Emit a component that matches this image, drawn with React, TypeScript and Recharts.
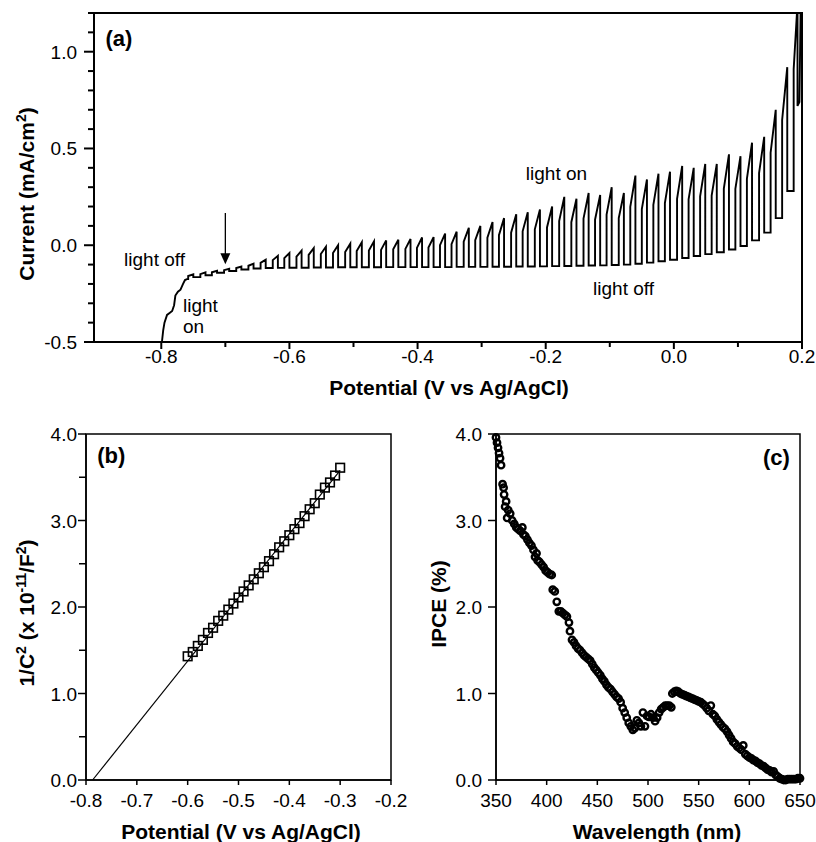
import React from "react";
import {
  LineChart,
  Line,
  ScatterChart,
  Scatter,
  XAxis,
  YAxis,
  ReferenceArea,
  ReferenceDot,
  ReferenceLine,
} from "recharts";

const FONT = "'Liberation Sans', Arial, Helvetica, sans-serif";

// ---------- (a) photocurrent under chopped light ----------
// steep rise at the start of the sweep
const riseV = [-0.799, -0.797, -0.795, -0.791, -0.787, -0.783, -0.78, -0.778, -0.774, -0.77, -0.766, -0.763, -0.76];
const riseI = [-0.5, -0.44, -0.4, -0.36, -0.35, -0.34, -0.31, -0.26, -0.24, -0.23, -0.2, -0.18, -0.175];

// one entry per light on/off cycle
const onV = [
  -0.758, -0.739, -0.721, -0.702, -0.683, -0.664, -0.645, -0.626, -0.608, -0.589, -0.57, -0.551, -0.532,
  -0.513, -0.495, -0.476, -0.457, -0.438, -0.419, -0.401, -0.383, -0.365, -0.347, -0.328, -0.31, -0.291,
  -0.273, -0.254, -0.236, -0.217, -0.198, -0.179, -0.16, -0.141, -0.123, -0.105, -0.086, -0.068, -0.05,
  -0.032, -0.014, 0.005, 0.023, 0.041, 0.059, 0.078, 0.096, 0.114, 0.133, 0.151, 0.169, 0.187,
];
const offV = [
  -0.75, -0.731, -0.713, -0.694, -0.675, -0.656, -0.637, -0.618, -0.6, -0.581, -0.562, -0.543, -0.524,
  -0.505, -0.487, -0.468, -0.449, -0.43, -0.411, -0.393, -0.375, -0.357, -0.339, -0.32, -0.302, -0.283,
  -0.265, -0.246, -0.228, -0.209, -0.19, -0.171, -0.152, -0.133, -0.115, -0.097, -0.078, -0.06, -0.042,
  -0.024, -0.006, 0.013, 0.031, 0.049, 0.067, 0.086, 0.104, 0.122, 0.141, 0.159, 0.177, 0.193,
];
const stepI = [
  -0.159, -0.149, -0.14, -0.129, -0.118, -0.106, -0.091, -0.077, -0.067, -0.059, -0.05, -0.045, -0.04,
  -0.035, -0.03, -0.027, -0.024, -0.021, -0.019, -0.014, -0.012, 0.0, 0.006, 0.019, 0.026, 0.039,
  0.052, 0.065, 0.072, 0.082, 0.092, 0.125, 0.119, 0.138, 0.132, 0.159, 0.14, 0.199, 0.187,
  0.209, 0.218, 0.24, 0.237, 0.253, 0.257, 0.293, 0.291, 0.343, 0.373, 0.478, 0.647, 0.91,
];
const peakI = [
  -0.15, -0.14, -0.132, -0.122, -0.11, -0.095, -0.075, -0.055, -0.04, -0.028, -0.015, -0.008, 0.0,
  0.008, 0.015, 0.02, 0.025, 0.028, 0.032, 0.04, 0.042, 0.06, 0.07, 0.09, 0.1, 0.12,
  0.14, 0.16, 0.17, 0.185, 0.2, 0.25, 0.24, 0.27, 0.26, 0.3, 0.27, 0.36, 0.34,
  0.37, 0.38, 0.41, 0.4, 0.42, 0.42, 0.47, 0.46, 0.53, 0.56, 0.7, 0.92, 1.25,
];
const darkI = [
  -0.165, -0.155, -0.142, -0.133, -0.125, -0.12, -0.118, -0.117, -0.116, -0.116, -0.115, -0.115, -0.114,
  -0.114, -0.114, -0.114, -0.113, -0.113, -0.113, -0.113, -0.113, -0.113, -0.112, -0.112, -0.112, -0.111,
  -0.111, -0.11, -0.11, -0.109, -0.108, -0.107, -0.106, -0.105, -0.104, -0.102, -0.1, -0.096, -0.09,
  -0.083, -0.075, -0.066, -0.056, -0.046, -0.036, -0.022, -0.004, 0.025, 0.065, 0.14, 0.28, 0.72,
];
const tailV = [0.196, 0.198];
const tailI = [0.74, 1.25];

const aXTicks = [-0.8, -0.7, -0.6, -0.5, -0.4, -0.3, -0.2, -0.1, 0, 0.1, 0.2];
const aXMajor = [-0.8, -0.6, -0.4, -0.2, 0, 0.2];
const aYTicks = [-0.5, -0.4, -0.3, -0.2, -0.1, 0, 0.1, 0.2, 0.3, 0.4, 0.5, 0.6, 0.7, 0.8, 0.9, 1.0, 1.1, 1.2];
const aYMajor = [-0.5, 0, 0.5, 1.0];

// ---------- (b) Mott-Schottky ----------
const bPotential = [
  -0.6, -0.59, -0.58, -0.57, -0.56, -0.55, -0.54, -0.53, -0.52, -0.51, -0.5, -0.49, -0.48, -0.47, -0.46, -0.45,
  -0.44, -0.43, -0.42, -0.41, -0.4, -0.39, -0.38, -0.37, -0.36, -0.35, -0.34, -0.33, -0.32, -0.31, -0.3,
];
const bInvC2 = [
  1.43, 1.48, 1.55, 1.62, 1.7, 1.76, 1.84, 1.9, 1.97, 2.04, 2.11, 2.18, 2.25, 2.32, 2.39, 2.46,
  2.53, 2.61, 2.69, 2.76, 2.83, 2.9, 2.97, 3.05, 3.13, 3.2, 3.3, 3.38, 3.44, 3.52, 3.61,
];
const bFitV = [-0.787, -0.3];
const bFitY = [0, 3.58];
const bXTicks = [-0.8, -0.7, -0.6, -0.5, -0.4, -0.3, -0.2];
const bYTicks = [0, 0.5, 1, 1.5, 2, 2.5, 3, 3.5, 4];
const bYMajor = [0, 1, 2, 3, 4];

// ---------- (c) IPCE ----------
const cWavelength = [
  350, 351, 352, 353, 354, 355, 356.5, 357.5, 358, 359, 360, 361, 362, 364, 366, 368, 370, 372, 374, 376,
  377, 379, 381, 383, 385, 387, 388.5, 390, 391, 393, 395, 397, 399, 401, 403, 405, 406, 408, 410, 412,
  414, 416, 418, 420, 422, 423, 425, 427, 429, 431, 433, 435, 437, 439, 441, 443, 445, 447, 449, 451,
  453, 455, 457, 459, 461, 463, 465, 467, 469, 471, 473, 475, 477, 479, 481, 483, 485, 487, 489, 491,
  493, 495, 497, 499, 501, 503, 505, 507, 509, 511, 513, 515, 517, 519, 521, 523, 524, 526, 528, 530,
  532, 534, 536, 538, 540, 542, 544, 546, 548, 550, 552, 554, 556, 558, 560, 562, 564, 566, 568, 570,
  572, 574, 576, 578, 580, 582, 584, 586, 588, 590, 592, 594, 596, 598, 600, 602, 604, 606, 608, 610,
  612, 614, 616, 618, 620, 622, 624, 626, 628, 630, 632, 634, 636, 638, 640, 642, 644, 646, 648, 650,
];
const cIpce = [
  3.96, 3.9, 3.84, 3.78, 3.72, 3.64, 3.42, 3.38, 3.3, 3.16, 3.22, 3.03, 3.12, 3.08, 3.0, 2.96, 2.92, 2.9, 2.88, 2.92,
  2.84, 2.82, 2.78, 2.74, 2.71, 2.66, 2.58, 2.62, 2.54, 2.52, 2.49, 2.46, 2.42, 2.4, 2.38, 2.37, 2.2, 2.18, 2.06, 1.95,
  1.95, 1.93, 1.91, 1.89, 1.82, 1.72, 1.62, 1.59, 1.55, 1.52, 1.5, 1.47, 1.44, 1.42, 1.4, 1.38, 1.34, 1.3, 1.27, 1.24,
  1.21, 1.17, 1.14, 1.1, 1.07, 1.05, 1.02, 0.99, 0.96, 0.94, 0.9, 0.83, 0.78, 0.72, 0.66, 0.62, 0.58, 0.6, 0.69, 0.66,
  0.62, 0.78, 0.62, 0.74, 0.73, 0.76, 0.72, 0.68, 0.72, 0.78, 0.82, 0.84, 0.86, 0.86, 0.86, 0.84, 1.0, 1.02, 1.03, 1.02,
  1.0, 0.99, 0.98, 0.97, 0.96, 0.95, 0.94, 0.93, 0.92, 0.91, 0.9, 0.88, 0.86, 0.83, 0.8, 0.86, 0.76, 0.74, 0.7, 0.67,
  0.64, 0.61, 0.59, 0.56, 0.52, 0.48, 0.44, 0.42, 0.39, 0.37, 0.35, 0.4, 0.3, 0.28, 0.26, 0.25, 0.23, 0.22, 0.2, 0.19,
  0.17, 0.16, 0.14, 0.12, 0.11, 0.09, 0.1, 0.06, 0.04, 0.02, 0.01, 0.0, 0.0, 0.01, 0.01, 0.01, 0.01, 0.01, 0.02, 0.02,
];
const cXTicks = [350, 400, 450, 500, 550, 600, 650];
const cYTicks = [0, 1, 2, 3, 4];

// build the plotted tables from the arrays above
const aData: { v: number; i: number }[] = [];
riseV.forEach((v, k) => aData.push({ v, i: riseI[k] }));
let lastDark = riseI[riseI.length - 1];
onV.forEach((v, k) => {
  aData.push({ v, i: lastDark });
  aData.push({ v, i: stepI[k] });
  aData.push({ v: offV[k], i: peakI[k] });
  aData.push({ v: offV[k], i: darkI[k] });
  lastDark = darkI[k];
});
tailV.forEach((v, k) => aData.push({ v, i: tailI[k] }));

const bData = bPotential.map((x, k) => ({ x, y: bInvC2[k] }));
const bFit = bFitV.map((x, k) => ({ x, y: bFitY[k] }));
const cData = cWavelength.map((x, k) => ({ x, y: cIpce[k] }));

const isIn = (list: number[], v: number) => list.some((m) => Math.abs(m - v) < 1e-9);

// ticks drawn by hand so minor ticks can be shorter and unlabelled
const makeXTick = (majors: number[], fmt: (v: number) => string, majorLen: number, minorLen: number, dy: number, sw: number) =>
  (props: any) => {
    const { x, y, payload } = props;
    const major = isIn(majors, payload.value);
    return (
      <g>
        <line x1={x} y1={y} x2={x} y2={y + (major ? majorLen : minorLen)} stroke="#000" strokeWidth={sw} />
        {major && (
          <text x={x} y={y + dy} textAnchor="middle" fontFamily={FONT} fontSize={19} fill="#000">
            {fmt(payload.value)}
          </text>
        )}
      </g>
    );
  };

const makeYTick = (majors: number[], fmt: (v: number) => string, majorLen: number, minorLen: number, dx: number, sw: number) =>
  (props: any) => {
    const { x, y, payload } = props;
    const major = isIn(majors, payload.value);
    return (
      <g>
        <line x1={x} y1={y} x2={x - (major ? majorLen : minorLen)} y2={y} stroke="#000" strokeWidth={sw} />
        {major && (
          <text x={x - dx} y={y + 7} textAnchor="end" fontFamily={FONT} fontSize={19} fill="#000">
            {fmt(payload.value)}
          </text>
        )}
      </g>
    );
  };

const Title = ({ px, py, vertical, node }: any) => (
  <text
    x={px}
    y={py}
    textAnchor="middle"
    fontFamily={FONT}
    fontSize={21}
    fontWeight="bold"
    fill="#000"
    transform={vertical ? `rotate(-90 ${px} ${py})` : undefined}
  >
    {node}
  </text>
);

const note = (txt: string, size = 19, bold = false, anchor = "start") => (p: any) => (
  <text x={p.cx} y={p.cy} textAnchor={anchor} fontFamily={FONT} fontSize={size} fontWeight={bold ? "bold" : "normal"} fill="#000">
    {txt}
  </text>
);

const Arrow = (p: any) => (
  <g>
    <line x1={p.x1} y1={p.y1} x2={p.x2} y2={p.y2 - 9} stroke="#000" strokeWidth={1.3} />
    <polygon points={`${p.x2 - 5},${p.y2 - 11} ${p.x2 + 5},${p.y2 - 11} ${p.x2},${p.y2}`} fill="#000" />
  </g>
);

const Square = (p: any) => (
  <rect x={p.cx - 4.3} y={p.cy - 4.3} width={8.6} height={8.6} fill="none" stroke="#000" strokeWidth={1.6} />
);
const Ring = (p: any) => <circle cx={p.cx} cy={p.cy} r={3.2} fill="none" stroke="#000" strokeWidth={2.4} />;
const NoDot = () => <g />;

const fmt1 = (v: number) => v.toFixed(1);
const fmtInt = (v: number) => String(v);

export default function App() {
  return (
    <div style={{ position: "absolute", left: 0, top: 0, width: 816, height: 842, background: "#fff" }}>
      {/* (a) */}
      <div style={{ position: "absolute", left: 0, top: 0 }}>
        <LineChart width={816} height={400} data={aData} margin={{ top: 13, right: 14, left: 0, bottom: 0 }}>
          <XAxis
            dataKey="v"
            type="number"
            domain={[-0.905, 0.2]}
            allowDataOverflow
            ticks={aXTicks}
            interval={0}
            tickSize={0}
            tickMargin={0}
            tickLine={false}
            height={58}
            axisLine={{ stroke: "#000", strokeWidth: 2 }}
            tick={makeXTick(aXMajor, fmt1, 7, 5, 21, 2)}
            label={<Title px={449} py={395} node="Potential (V vs Ag/AgCl)" />}
          />
          <YAxis
            type="number"
            domain={[-0.5, 1.2]}
            allowDataOverflow
            ticks={aYTicks}
            interval={0}
            tickSize={0}
            tickMargin={0}
            tickLine={false}
            width={94}
            axisLine={{ stroke: "#000", strokeWidth: 2 }}
            tick={makeYTick(aYMajor, fmt1, 10, 6, 17, 2)}
            label={
              <Title
                px={34}
                py={194}
                vertical
                node={
                  <>
                    Current (mA/cm
                    <tspan dy={-8} fontSize={14}>2</tspan>
                    <tspan dy={8}>)</tspan>
                  </>
                }
              />
            }
          />
          <ReferenceArea x1={-0.905} x2={0.2} y1={-0.5} y2={1.2} fill="none" stroke="#000" strokeWidth={2} ifOverflow="visible" />
          <Line type="linear" dataKey="i" stroke="#000" strokeWidth={1.9} dot={false} isAnimationActive={false} />
          <ReferenceLine segment={[{ x: -0.7, y: 0.166 }, { x: -0.7, y: -0.098 }]} shape={Arrow} />
          <ReferenceDot x={-0.887} y={1.027} r={0} shape={note("(a)", 22, true)} />
          <ReferenceDot x={-0.858} y={-0.109} r={0} shape={note("light off")} />
          <ReferenceDot x={-0.766} y={-0.347} r={0} shape={note("light")} />
          <ReferenceDot x={-0.766} y={-0.455} r={0} shape={note("on")} />
          <ReferenceDot x={-0.231} y={0.336} r={0} shape={note("light on")} />
          <ReferenceDot x={-0.126} y={-0.259} r={0} shape={note("light off")} />
        </LineChart>
      </div>

      {/* (b) */}
      <div style={{ position: "absolute", left: 0, top: 400 }}>
        <ScatterChart width={410} height={442} margin={{ top: 34, right: 19, left: 0, bottom: 0 }}>
          <XAxis
            dataKey="x"
            type="number"
            domain={[-0.8, -0.2]}
            ticks={bXTicks}
            interval={0}
            tickSize={0}
            tickMargin={0}
            tickLine={false}
            height={62}
            axisLine={{ stroke: "#000", strokeWidth: 1.5 }}
            tick={makeXTick(bXTicks, fmt1, 5, 5, 27, 1.5)}
            label={<Title px={241} py={439} node="Potential (V vs Ag/AgCl)" />}
          />
          <YAxis
            dataKey="y"
            type="number"
            domain={[0, 4]}
            ticks={bYTicks}
            interval={0}
            tickSize={0}
            tickMargin={0}
            tickLine={false}
            width={86}
            axisLine={{ stroke: "#000", strokeWidth: 1.5 }}
            tick={makeYTick(bYMajor, fmt1, 8, 7, 9, 1.5)}
            label={
              <Title
                px={34}
                py={213}
                vertical
                node={
                  <>
                    1/C
                    <tspan dy={-8} fontSize={14}>2</tspan>
                    <tspan dy={8}> (x 10</tspan>
                    <tspan dy={-8} fontSize={14}>-11</tspan>
                    <tspan dy={8}>/F</tspan>
                    <tspan dy={-8} fontSize={14}>2</tspan>
                    <tspan dy={8}>)</tspan>
                  </>
                }
              />
            }
          />
          <ReferenceArea x1={-0.8} x2={-0.2} y1={0} y2={4} fill="none" stroke="#000" strokeWidth={1.5} ifOverflow="visible" />
          <Scatter data={bFit} line={{ stroke: "#000", strokeWidth: 1.2 }} shape={NoDot} isAnimationActive={false} />
          <Scatter data={bData} shape={Square} isAnimationActive={false} />
          <ReferenceDot x={-0.778} y={3.66} r={0} shape={note("(b)", 22, true)} />
        </ScatterChart>
      </div>

      {/* (c) */}
      <div style={{ position: "absolute", left: 410, top: 400 }}>
        <ScatterChart width={406} height={442} margin={{ top: 34, right: 16, left: 0, bottom: 0 }}>
          <XAxis
            dataKey="x"
            type="number"
            domain={[350, 650]}
            ticks={cXTicks}
            interval={0}
            tickSize={0}
            tickMargin={0}
            tickLine={false}
            height={62}
            axisLine={{ stroke: "#000", strokeWidth: 1.5 }}
            tick={makeXTick(cXTicks, fmtInt, 5, 5, 27, 1.5)}
            label={<Title px={247} py={439} node="Wavelength (nm)" />}
          />
          <YAxis
            dataKey="y"
            type="number"
            domain={[0, 4]}
            ticks={cYTicks}
            interval={0}
            tickSize={0}
            tickMargin={0}
            tickLine={false}
            width={86}
            axisLine={{ stroke: "#000", strokeWidth: 1.5 }}
            tick={makeYTick(cYTicks, fmt1, 8, 8, 14, 1.5)}
            label={<Title px={36} py={204} vertical node="IPCE (%)" />}
          />
          <ReferenceArea x1={350} x2={650} y1={0} y2={4} fill="none" stroke="#000" strokeWidth={1.5} ifOverflow="visible" />
          <Scatter data={cData} shape={Ring} isAnimationActive={false} />
          <ReferenceDot x={640} y={3.64} r={0} shape={note("(c)", 22, true, "end")} />
        </ScatterChart>
      </div>
    </div>
  );
}
